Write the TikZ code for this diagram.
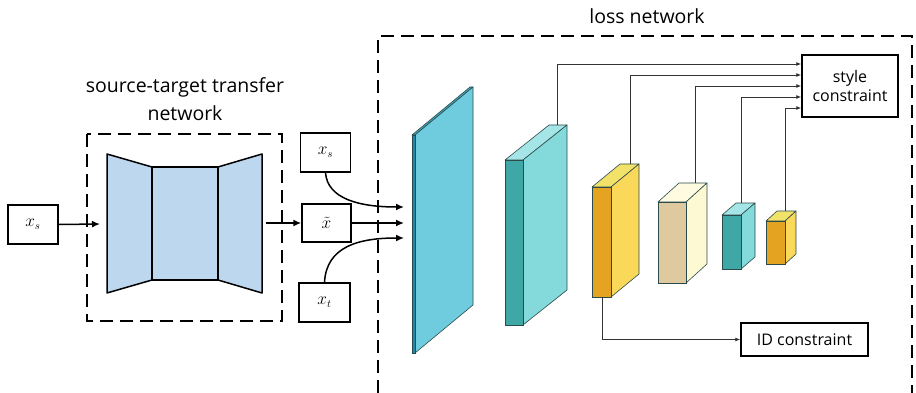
\documentclass[tikz,border=0pt]{standalone}
\usepackage{fontspec}
\setsansfont{Open Sans}
\usetikzlibrary{arrows.meta}

\definecolor{encfill}{HTML}{BDD7EE}
\definecolor{edgecol}{HTML}{2B4A4A}
\definecolor{slabFront}{HTML}{1E88A8}
\definecolor{slabSide}{HTML}{6ECCDE}
\definecolor{slabTop}{HTML}{3FA6BE}
\definecolor{tealFront}{HTML}{3FA7A6}
\definecolor{tealSide}{HTML}{84D9DA}
\definecolor{tealTop}{HTML}{A6E5E7}
\definecolor{orangeFront}{HTML}{E4A421}
\definecolor{yellowSide}{HTML}{FAD85A}
\definecolor{yellowTop}{HTML}{F3E26A}
\definecolor{beigeFront}{HTML}{DECA9E}
\definecolor{paleSide}{HTML}{FDFAD3}
\definecolor{paleTop}{HTML}{FEFBE0}
\definecolor{connline}{HTML}{333333}

% cuboid: x, y (front top-left), width, height, depth dx, depth dy, front, side, top
\newcommand\featblock[9]{%
  \filldraw[fill=#9, draw=edgecol, line width=0.6pt, line join=round]
    (#1,#2) -- ++(#3,0) -- ++(#5,-#6) -- ++(-#3,0) -- cycle;
  \filldraw[fill=#8, draw=edgecol, line width=0.6pt, line join=round]
    (#1+#3,#2) -- ++(#5,-#6) -- ++(0,#4) -- ++(-#5,#6) -- cycle;
  \filldraw[fill=#7, draw=edgecol, line width=0.6pt]
    (#1,#2) rectangle ++(#3,#4);
}

\tikzset{
  box/.style={draw, line width=1.5pt, fill=white, inner sep=0pt},
  dashbox/.style={line width=1.5pt, dash pattern=on 13pt off 7pt},
  thickarrow/.style={line width=1.5pt, -{Latex[length=8pt,width=7pt]}},
  conn/.style={line width=0.8pt, draw=connline, -{Latex[length=5pt,width=4pt]}},
  label/.style={font=\sffamily\fontsize{19.5}{22}\selectfont},
  boxtext/.style={font=\sffamily\fontsize{16}{19}\selectfont, align=center},
  mathlabel/.style={font=\fontsize{16}{18}\selectfont},
}

\begin{document}
\begin{tikzpicture}[x=1pt, y=-1pt]
\useasboundingbox (0,0) rectangle (916,393);

% ---------- source-target transfer network ----------
\draw[dashbox] (87,134) rectangle (282,321);
\node[label] (stlabel1) at (185,87) {source-target transfer};
\node[label] (stlabel2) at (185,113) {network};

\filldraw[fill=encfill, line width=1.5pt, line join=round]
  (107,154) -- (152,167) -- (152,280) -- (107,293) -- cycle;
\filldraw[fill=encfill, line width=1.5pt] (152,167) rectangle (218,280);
\filldraw[fill=encfill, line width=1.5pt, line join=round]
  (218,167) -- (262,154) -- (262,293) -- (218,280) -- cycle;
\coordinate (encin) at (100,224);
\coordinate (encout) at (266,223);

\node[box, minimum width=50pt, minimum height=39pt, mathlabel] (xsin) at (33,224.5) {$x_s$};
\draw[thickarrow] (xsin.east) -- (encin);

% ---------- inputs to the loss network ----------
\node[box, minimum width=50pt, minimum height=39pt, mathlabel] (xsref) at (325.5,152.5) {$x_s$};
\node[box, minimum width=49pt, minimum height=38pt, mathlabel] (xtilde) at (326.5,223) {$\tilde{x}$};
\node[box, minimum width=51pt, minimum height=39pt, mathlabel] (xtref) at (324.5,302.5) {$x_t$};
\draw[thickarrow] (encout) -- (xtilde.west);

\coordinate (in1) at (404,207);
\coordinate (in2) at (404,223);
\coordinate (in3) at (404,238);
\draw[thickarrow] (xsref.south) .. controls +(2,26) and +(-45,0) .. (in1);
\draw[thickarrow] (xtilde.east) -- (in2);
\draw[thickarrow] (xtref.north) .. controls +(2,-36) and +(-45,0) .. (in3);

% ---------- loss network ----------
\draw[dashbox] (378,393) -- (378,36) -- (912,36) -- (912,393);
\node[label] (losslabel) at (647,16) {loss network};

\node[box, minimum width=96pt, minimum height=62pt, boxtext] (style) at (850,86) {style\\constraint};
\node[box, minimum width=127pt, minimum height=33pt, boxtext] (idc) at (804.5,339.5) {ID constraint};

\featblock{412}{135}{3}{218}{58}{48}{slabFront}{slabSide}{slabTop}
\featblock{505}{160}{18}{165}{44}{35}{tealFront}{tealSide}{tealTop}
\featblock{592}{187}{19}{110}{28}{23}{orangeFront}{yellowSide}{yellowTop}
\featblock{658}{202}{28}{81}{21}{19}{beigeFront}{paleSide}{paleTop}
\featblock{722}{215}{19}{54}{14}{12}{tealFront}{tealSide}{tealTop}
\featblock{766}{221}{19}{43}{11}{10}{orangeFront}{yellowSide}{yellowTop}

\coordinate (f2) at (557,125);
\coordinate (f3) at (630,164);
\coordinate (f4) at (695,183);
\coordinate (f5) at (741,203);
\coordinate (f6) at (785,211);
\coordinate (f3b) at (602,297);

\draw[conn] (f2) |- ([yshift=22pt]style.west);
\draw[conn] (f3) |- ([yshift=11pt]style.west);
\draw[conn] (f4) |- (style.west);
\draw[conn] (f5) |- ([yshift=-11pt]style.west);
\draw[conn] (f6) |- ([yshift=-22pt]style.west);
\draw[conn] (f3b) |- (idc.west);
\end{tikzpicture}
\end{document}
